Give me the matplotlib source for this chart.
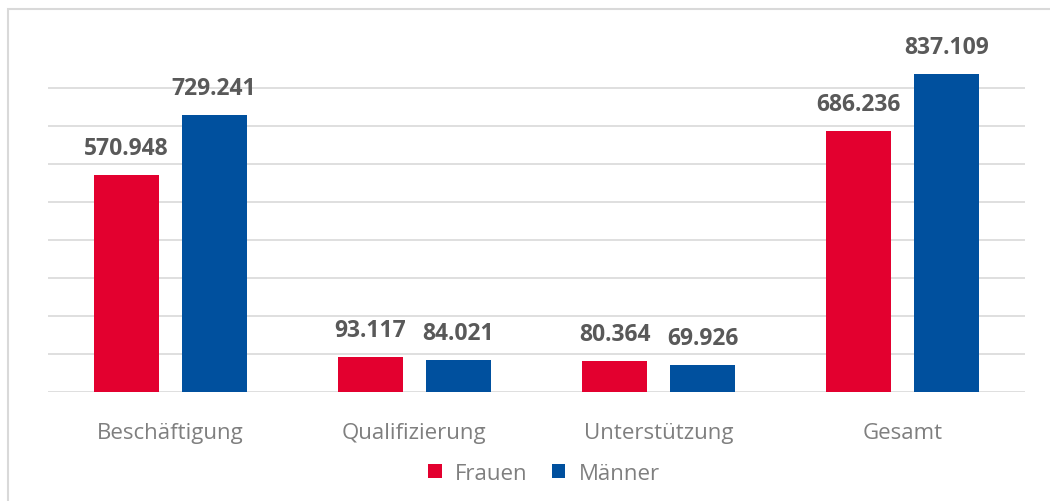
import numpy as np
import matplotlib.pyplot as plt
from matplotlib.patches import Rectangle

categories = ['Beschäftigung', 'Qualifizierung', 'Unterstützung', 'Gesamt']
frauen = [570.948, 93.117, 80.364, 686.236]
maenner = [729.241, 84.021, 69.926, 837.109]
labels_f = ['570.948', '93.117', '80.364', '686.236']
labels_m = ['729.241', '84.021', '69.926', '837.109']

red = '#E3002F'
blue = '#00509E'
grey_txt = '#7F7F7F'
dark_txt = '#595959'

plt.rcParams['font.family'] = ['Open Sans', 'DejaVu Sans']

fig = plt.figure(figsize=(10.5, 5.02), dpi=100, facecolor='white')
fig.patches.append(Rectangle((8/1050, -0.1), 1.5, 1.1 - 10/502, transform=fig.transFigure,
                             fill=False, edgecolor='#D9D9D9', linewidth=1.5))
ax = fig.add_axes([48/1050, 109/502, 977/1050, 342/502])

x = np.arange(len(categories))
w = 0.266
off = (w + 0.094) / 2
ax.bar(x - off, frauen, w, color=red, label='Frauen', zorder=3)
ax.bar(x + off, maenner, w, color=blue, label='Männer', zorder=3)

for xi, v, t in zip(x - off, frauen, labels_f):
    ax.annotate(t, (xi, v), xytext=(0, 27), textcoords='offset pixels', ha='center', va='center',
                fontsize=16.5, fontweight='bold', color=dark_txt)
for xi, v, t in zip(x + off, maenner, labels_m):
    ax.annotate(t, (xi, v), xytext=(0, 27), textcoords='offset pixels', ha='center', va='center',
                fontsize=16.5, fontweight='bold', color=dark_txt)

ax.set_xlim(-0.5, 3.5)
ax.set_ylim(0, 900)
ax.set_yticks(np.arange(0, 900, 100))
ax.yaxis.grid(True, color='#D9D9D9', linewidth=1.2, zorder=0)
ax.tick_params(axis='y', left=False, labelleft=False)
ax.tick_params(axis='x', bottom=False, pad=18)
ax.set_xticks(x)
ax.set_xticklabels(categories, fontsize=16, color=grey_txt)
for s in ax.spines.values():
    s.set_visible(False)

fig.legend(loc='center', bbox_to_anchor=(544/1050, 1 - 474/502), ncol=2, frameon=False,
           fontsize=16, labelcolor=grey_txt, handlelength=0.6, handleheight=0.6,
           handletextpad=0.6, columnspacing=1.1)

plt.savefig('out.png', dpi=100, facecolor='white')
